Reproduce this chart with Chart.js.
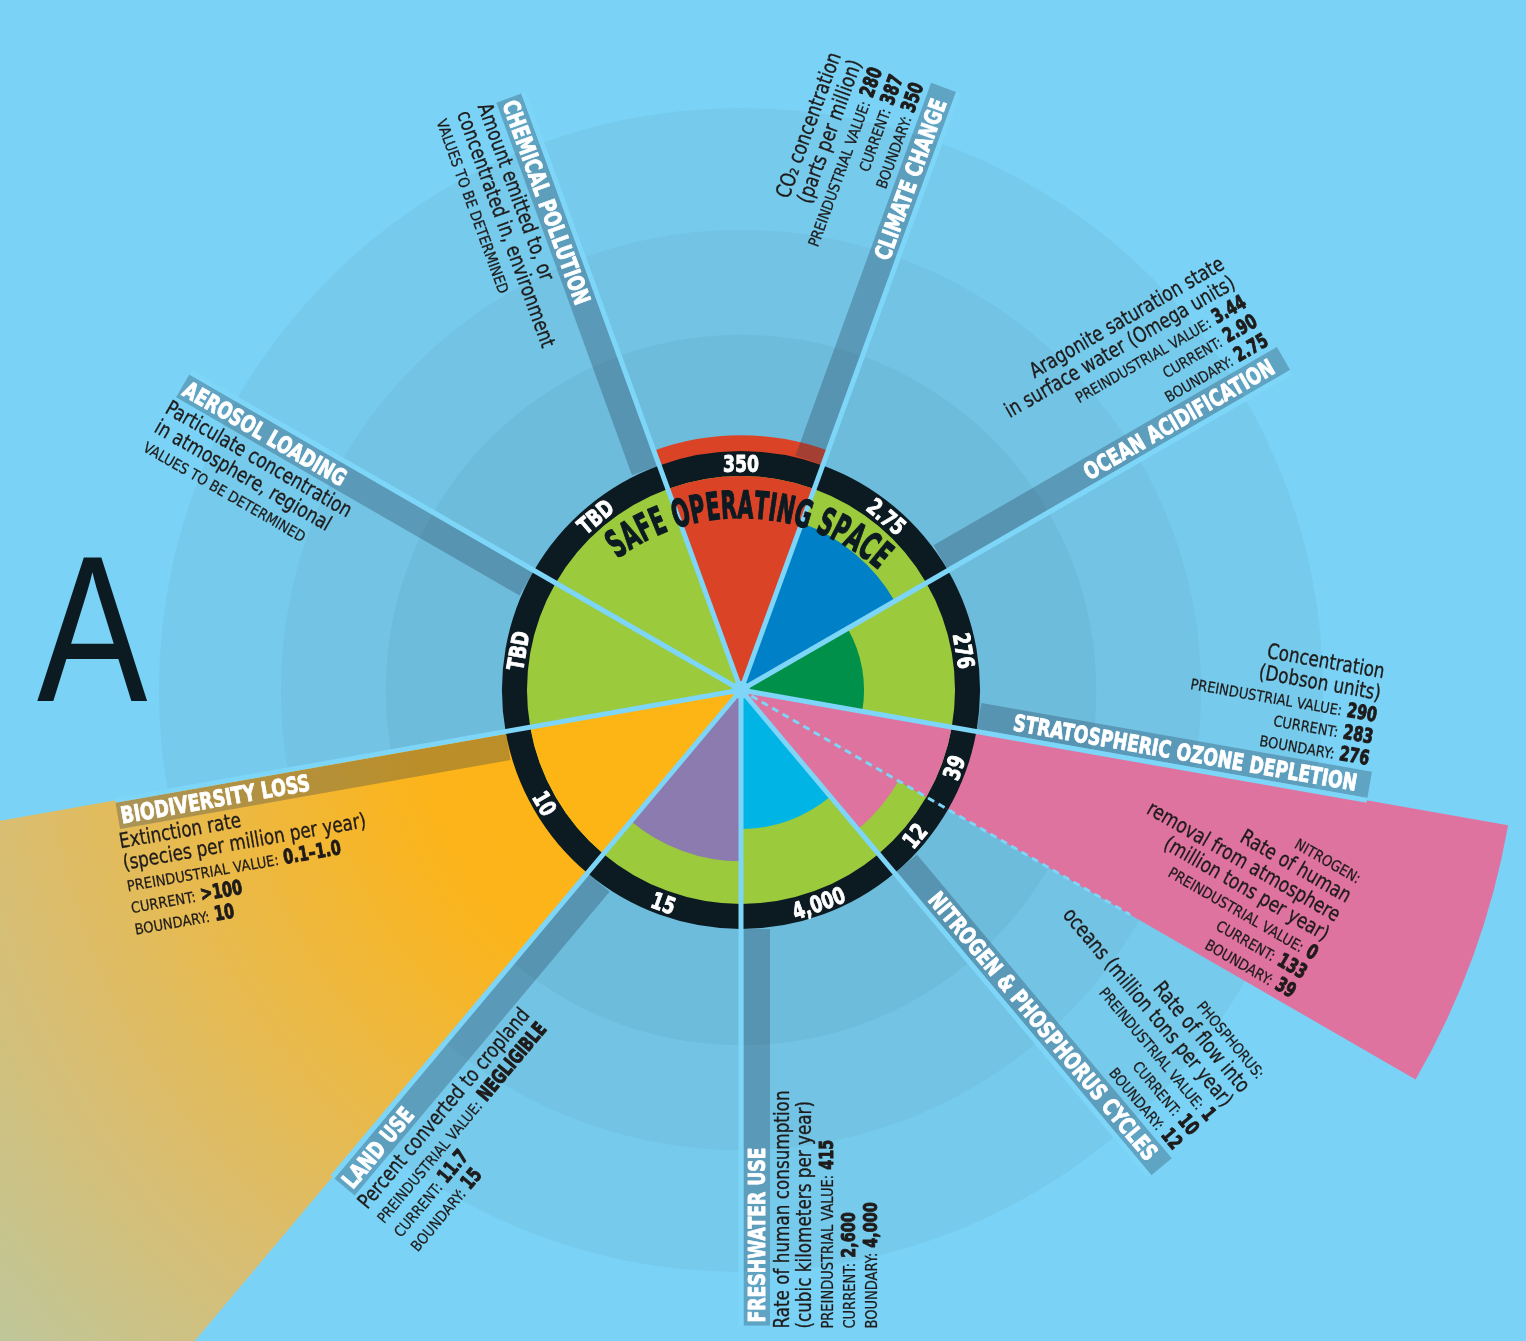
<!DOCTYPE html>
<html>
<head>
<meta charset="utf-8">
<title>Planetary boundaries</title>
<script src="https://cdn.jsdelivr.net/npm/chart.js@4.4.1/dist/chart.umd.min.js"></script>
<style>
  html, body { margin: 0; padding: 0; background: #7AD3F6; }
  canvas { display: block; }
</style>
</head>
<body>
<canvas id="boundaries" width="1526" height="1341"></canvas>
<script>
// sectors run clockwise, the first one starts 20 degrees left of north
const categories = ['Climate change', 'Ocean acidification', 'Stratospheric ozone depletion', 'Nitrogen cycle',
  'Phosphorus cycle', 'Freshwater use', 'Land use', 'Biodiversity loss', 'Aerosol loading', 'Chemical pollution'];
const sectorGroup = [0, 1, 2, 3, 3, 4, 5, 6, 7, 8];
const sectorAngles = [40, 40, 40, 20, 20, 40, 40, 40, 40, 40];
const currentShare = [1.19, 0.83, 0.575, 3.64, 0.85, 0.65, 0.80, 5.0, 0, 0];
const boundaryShare = [1, 1, 1, 1, 1, 1, 1, 1, 1, 1];
const boundaryLabels = ['350', '2.75', '276', '39', '12', '4,000', '15', '10', 'TBD', 'TBD'];
const preindustrialValues = ['280', '3.44', '290', '0', '1', '415', 'NEGLIGIBLE', '0.1–1.0', null, null];
const currentValues = ['387', '2.90', '283', '133', '10', '2,600', '11.7', '>100', null, null];
const notePrefix = [null, null, null, 'NITROGEN:', 'PHOSPHORUS:', null, null, null, null, null];
const noteLines = [
  ['CO₂ concentration', '(parts per million)'],
  ['Aragonite saturation state', 'in surface water (Omega units)'],
  ['Concentration', '(Dobson units)'],
  ['Rate of human', 'removal from atmosphere', '(million tons per year)'],
  ['Rate of flow into', 'oceans (million tons per year)'],
  ['Rate of human consumption', '(cubic kilometers per year)'],
  ['Percent converted to cropland'],
  ['Extinction rate', '(species per million per year)'],
  ['Particulate concentration', 'in atmosphere, regional'],
  ['Amount emitted to, or', 'concentrated in, environment']
];
const groupTitles = ['CLIMATE CHANGE', 'OCEAN ACIDIFICATION', 'STRATOSPHERIC OZONE DEPLETION',
  'NITROGEN & PHOSPHORUS CYCLES', 'FRESHWATER USE', 'LAND USE', 'BIODIVERSITY LOSS', 'AEROSOL LOADING', 'CHEMICAL POLLUTION'];

const sectorColors = ['#DB4327', '#0080C6', '#00904A', '#DF73A0', '#DF73A0', '#00B5E6', '#8B7BAE', '#FDB515', '#9BCA3C', '#9BCA3C'];
const START_ANGLE = -20;
const RING_OUTER = 1.117;   // outer edge of black ring, boundary units
const BAND_END = 2.97;      // label bands end here, boundary units
const bgRings = [[2.72, '#76CAEC'], [2.15, '#72C3E4'], [1.66, '#6DBCDB']];
const LIGHT = '#7DD5F7';
const FAMILY = '"DejaVu Sans", sans-serif';

const cappedShare = currentShare.map(v => Math.min(v, 1));
const cappedColors = cappedShare.map((v, i) => v > 0 ? sectorColors[i] : '#9BCA3C');

const fonts = {
  title: { css: 'bold 23px ' + FAMILY, sx: 0.75, stroke: 0.9, color: '#FFFFFF' },
  note: { css: '21px ' + FAMILY, sx: 0.8, stroke: 0.35, color: '#1E1B1A' },
  small: { css: '15px ' + FAMILY, sx: 0.87, stroke: 0.25, color: '#1E1B1A' },
  value: { css: 'bold 20px ' + FAMILY, sx: 0.72, stroke: 1, color: '#1E1B1A' },
  ring: { css: 'bold 23px ' + FAMILY, sx: 0.75, stroke: 0.9, color: '#FFFFFF' },
  safe: { css: 'bold 38px ' + FAMILY, sx: 1, stroke: 1.3, color: '#0C1A22' }
};

// sector edges in degrees clockwise from north
const sectorStart = [];
sectorAngles.reduce((a, w, i) => { sectorStart[i] = a; return a + w; }, START_ANGLE);
const sectorEnd = sectorStart.map((a, i) => a + sectorAngles[i]);
const rad = d => d * Math.PI / 180;

function runWidth(ctx, text, f) { ctx.font = f.css; return ctx.measureText(text).width * f.sx; }
function drawRun(ctx, text, x, y, f, color) {
  ctx.save();
  ctx.translate(x, y);
  ctx.scale(f.sx, 1);
  ctx.font = f.css;
  ctx.fillStyle = color || f.color;
  ctx.textAlign = 'left';
  ctx.textBaseline = 'alphabetic';
  ctx.fillText(text, 0, 0);
  if (f.stroke) {
    ctx.lineWidth = f.stroke;
    ctx.lineJoin = 'round';
    ctx.strokeStyle = color || f.color;
    ctx.strokeText(text, 0, 0);
  }
  ctx.restore();
}
function lineWidth(ctx, runs) {
  return runs.reduce((w, r, i) => w + runWidth(ctx, r.t, r.f) + (i ? 5 : 0), 0);
}
function drawLine(ctx, runs, x, y, align) {
  let px = align === 'right' ? x - lineWidth(ctx, runs) : x;
  runs.forEach((r, i) => {
    if (i) px += 5;
    drawRun(ctx, r.t, px, y, r.f);
    px += runWidth(ctx, r.t, r.f);
  });
}
function blockLines(i) {
  const lines = [];
  if (notePrefix[i]) lines.push([{ t: notePrefix[i], f: fonts.small }]);
  noteLines[i].forEach(t => lines.push([{ t, f: fonts.note }]));
  if (currentValues[i] === null) {
    lines.push([{ t: 'VALUES TO BE DETERMINED', f: fonts.small }]);
  } else {
    lines.push([{ t: 'PREINDUSTRIAL VALUE:', f: fonts.small }, { t: preindustrialValues[i], f: fonts.value }]);
    lines.push([{ t: 'CURRENT:', f: fonts.small }, { t: currentValues[i], f: fonts.value }]);
    lines.push([{ t: 'BOUNDARY:', f: fonts.small }, { t: boundaryLabels[i], f: fonts.value }]);
  }
  return lines;
}
// frame where x runs along the ray at angle b; flipped frames read inward
function rayFrame(ctx, cx, cy, b, flip) {
  ctx.translate(cx, cy);
  ctx.rotate(rad(flip ? b + 90 : b - 90));
}

function biodiversityFill(chart) {
  const r = chart.scales.r;
  if (!r || r.xCenter === undefined) return sectorColors[7];
  const g = chart.ctx.createRadialGradient(r.xCenter, r.yCenter, 0, r.xCenter, r.yCenter, 1000);
  g.addColorStop(0, '#FDB515');
  g.addColorStop(0.33, '#FCB41A');
  g.addColorStop(0.75, '#D9BE72');
  g.addColorStop(1, '#BDC79C');
  return g;
}

const backdrop = {
  id: 'backdrop',
  beforeDraw(chart) {
    const { ctx, width, height } = chart;
    const s = chart.scales.r;
    ctx.save();
    ctx.fillStyle = '#7AD3F6';
    ctx.fillRect(0, 0, width, height);
    bgRings.forEach(([v, c]) => {
      ctx.beginPath();
      ctx.arc(s.xCenter, s.yCenter, s.getDistanceFromCenterForValue(v), 0, Math.PI * 2);
      ctx.fillStyle = c;
      ctx.fill();
    });
    drawRun(ctx, 'A', 37, 701, { css: '207px "Liberation Sans", sans-serif', sx: 0.8 }, '#0C1A22');
    ctx.restore();
  }
};

const overlay = {
  id: 'overlay',
  afterDatasetsDraw(chart) {
    const { ctx } = chart;
    const s = chart.scales.r;
    const cx = s.xCenter, cy = s.yCenter;
    const ringPx = s.getDistanceFromCenterForValue(RING_OUTER);
    const bandEnd = s.getDistanceFromCenterForValue(BAND_END);
    const innerPx = s.getDistanceFromCenterForValue(1);
    const groupEnd = i => i === categories.length - 1 || sectorGroup[i + 1] !== sectorGroup[i];

    // label bands
    categories.forEach((c, i) => {
      if (!groupEnd(i)) return;
      ctx.save();
      rayFrame(ctx, cx, cy, sectorEnd[i], false);
      ctx.fillStyle = 'rgba(35,55,80,0.3)';
      ctx.fillRect(ringPx, -29, bandEnd - ringPx, 26.5);
      ctx.restore();
    });

    // dividers
    categories.forEach((c, i) => {
      ctx.save();
      rayFrame(ctx, cx, cy, sectorEnd[i], false);
      ctx.strokeStyle = LIGHT;
      ctx.beginPath();
      if (groupEnd(i)) {
        ctx.lineWidth = 5;
        ctx.moveTo(0, 0);
        ctx.lineTo(bandEnd, 0);
      } else {
        ctx.lineWidth = 3;
        ctx.setLineDash([7, 5]);
        ctx.moveTo(0, 0);
        ctx.lineTo(s.getDistanceFromCenterForValue(2.1), 0);
      }
      ctx.stroke();
      ctx.restore();
    });
    ctx.beginPath();
    ctx.arc(cx, cy, 9, 0, Math.PI * 2);
    ctx.fillStyle = LIGHT;
    ctx.fill();

    // boundary values on the ring
    const ringMid = (innerPx + ringPx) / 2;
    categories.forEach((c, i) => {
      const mid = sectorStart[i] + sectorAngles[i] / 2;
      const a = ((mid % 360) + 360) % 360;
      const flip = a > 90 && a < 270;
      const w = runWidth(ctx, boundaryLabels[i], fonts.ring);
      ctx.save();
      ctx.translate(cx, cy);
      ctx.rotate(rad(flip ? a - 180 : a));
      drawRun(ctx, boundaryLabels[i], -w / 2, (flip ? ringMid : -ringMid) + 8.4, fonts.ring);
      ctx.restore();
    });

    // curved heading
    const safe = 'SAFE OPERATING SPACE';
    const R = 208, ocy = cy + 36, span = 77, midA = 2;
    ctx.font = fonts.safe.css;
    const sx = rad(span) * R / ctx.measureText(safe).width;
    let a = rad(midA - span / 2);
    for (const ch of safe) {
      ctx.font = fonts.safe.css;
      const w0 = ctx.measureText(ch).width;
      const w = w0 * sx;
      ctx.save();
      ctx.translate(cx, ocy);
      ctx.rotate(a + w / (2 * R));
      ctx.translate(-w / 2, -R);
      drawRun(ctx, ch, 0, 0, Object.assign({}, fonts.safe, { sx }));
      ctx.restore();
      a += w / R;
    }

    // group titles and notes
    categories.forEach((c, i) => {
      const b = ((sectorEnd[i] % 360) + 360) % 360;
      const flip = b >= 180;
      const banded = groupEnd(i);
      ctx.save();
      rayFrame(ctx, cx, cy, b, flip);
      if (banded) {
        const t = groupTitles[sectorGroup[i]];
        if (flip) drawLine(ctx, [{ t, f: fonts.title }], -bandEnd + 3, 24.1, 'left');
        else drawLine(ctx, [{ t, f: fonts.title }], bandEnd - 13, -7.4, 'right');
      }
      const lines = blockLines(i);
      const lh = 22;
      if (flip) {
        lines.forEach((ln, k) => drawLine(ctx, ln, -bandEnd - 3, 48 + k * lh, 'left'));
      } else {
        const y0 = banded ? -35 : -8;
        lines.forEach((ln, k) => drawLine(ctx, ln, bandEnd - 5, y0 - (lines.length - 1 - k) * lh, 'right'));
      }
      ctx.restore();
    });
  }
};

const arcBase = { angle: c => sectorAngles[c.dataIndex], borderWidth: 0, clip: false };

new Chart(document.getElementById('boundaries'), {
  type: 'polarArea',
  data: {
    labels: categories,
    datasets: [
      Object.assign({ label: 'Current level inside boundary', data: cappedShare, backgroundColor: cappedColors, order: 0 }, arcBase),
      Object.assign({ label: 'Safe operating space', data: boundaryShare, backgroundColor: '#9BCA3C', order: 1 }, arcBase),
      Object.assign({ label: 'Boundary ring', data: boundaryShare.map(v => v * RING_OUTER), backgroundColor: '#0C1A22', order: 2 }, arcBase),
      Object.assign({
        label: 'Current level', data: currentShare, order: 3,
        backgroundColor: c => c.dataIndex === 7 ? biodiversityFill(c.chart) : sectorColors[c.dataIndex]
      }, arcBase)
    ]
  },
  options: {
    responsive: false,
    animation: false,
    events: [],
    layout: { padding: { left: 527, right: 571, top: 476, bottom: 437 } },
    scales: { r: { display: false, min: 0, max: 1, startAngle: START_ANGLE } },
    plugins: { legend: { display: false }, tooltip: { enabled: false } }
  },
  plugins: [backdrop, overlay]
});
</script>
</body>
</html>
